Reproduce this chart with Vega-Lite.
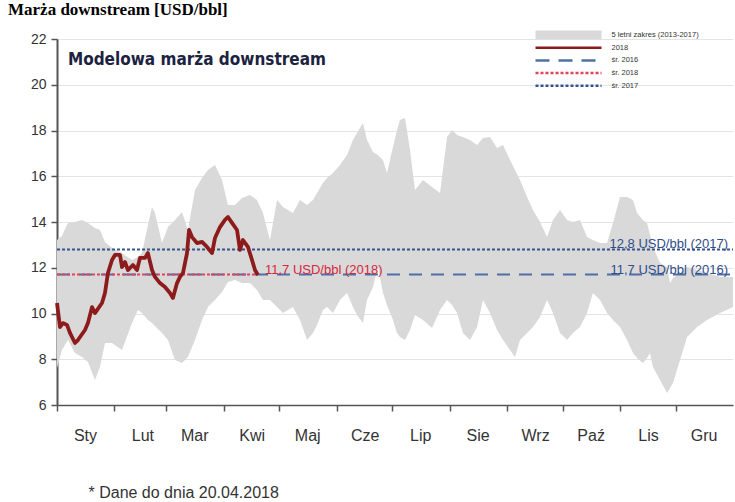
{
  "$schema": "https://vega.github.io/schema/vega-lite/v6.json",
  "width": 676,
  "height": 366,
  "autosize": {"type": "none"},
  "padding": {"left": 57, "top": 39, "right": 2, "bottom": 97},
  "background": "white",
  "config": {"view": {"stroke": null}, "font": "Liberation Sans"},
  "title": {
    "text": "Marża downstream [USD/bbl]",
    "anchor": "start",
    "frame": "group",
    "font": "Liberation Serif",
    "fontSize": 17,
    "fontWeight": "bold",
    "color": "#000000",
    "baseline": "alphabetic",
    "offset": 0,
    "dx": -49,
    "dy": 3
  },
  "datasets": {
    "band": [
      {"d": 0, "lo": 7.62, "hi": 13.21}, {"d": 2.7, "lo": 8.4, "hi": 13.4}, {"d": 5.9, "lo": 8.84, "hi": 13.96},
      {"d": 9.7, "lo": 8.27, "hi": 14.0}, {"d": 13.5, "lo": 8.1, "hi": 14.09}, {"d": 16.7, "lo": 7.88, "hi": 13.96},
      {"d": 20.5, "lo": 7.09, "hi": 13.74}, {"d": 23.2, "lo": 7.66, "hi": 13.65}, {"d": 25.9, "lo": 8.71, "hi": 13.13},
      {"d": 29.7, "lo": 8.71, "hi": 12.86}, {"d": 35.1, "lo": 8.4, "hi": 12.64}, {"d": 40.5, "lo": 9.58, "hi": 12.34},
      {"d": 43.7, "lo": 10.15, "hi": 12.47}, {"d": 45.9, "lo": 10.02, "hi": 12.64}, {"d": 49.1, "lo": 9.72, "hi": 13.87},
      {"d": 51.3, "lo": 9.58, "hi": 14.66}, {"d": 52.9, "lo": 9.45, "hi": 14.39}, {"d": 56.7, "lo": 9.15, "hi": 13.08},
      {"d": 59.9, "lo": 8.84, "hi": 13.78}, {"d": 63.7, "lo": 7.97, "hi": 14.09}, {"d": 67.5, "lo": 7.84, "hi": 14.44},
      {"d": 70.7, "lo": 8.1, "hi": 13.65}, {"d": 74.5, "lo": 8.84, "hi": 15.4}, {"d": 78.3, "lo": 9.72, "hi": 15.92},
      {"d": 81.5, "lo": 10.28, "hi": 16.27}, {"d": 85.3, "lo": 10.59, "hi": 16.49}, {"d": 89.1, "lo": 10.94, "hi": 15.84},
      {"d": 92.3, "lo": 11.38, "hi": 14.74}, {"d": 96.1, "lo": 11.46, "hi": 14.74}, {"d": 99.9, "lo": 11.33, "hi": 15.05},
      {"d": 104.2, "lo": 11.33, "hi": 15.18}, {"d": 108, "lo": 11.03, "hi": 14.96}, {"d": 111.2, "lo": 10.59, "hi": 14.39},
      {"d": 115, "lo": 10.59, "hi": 13.21}, {"d": 118.8, "lo": 10.28, "hi": 14.96}, {"d": 122, "lo": 10.02, "hi": 14.66},
      {"d": 127.4, "lo": 10.28, "hi": 14.39}, {"d": 131.2, "lo": 9.72, "hi": 14.96}, {"d": 135, "lo": 8.84, "hi": 14.74},
      {"d": 138.2, "lo": 9.15, "hi": 14.96}, {"d": 140.4, "lo": 9.5, "hi": 15.27}, {"d": 143.6, "lo": 10.15, "hi": 15.7},
      {"d": 145.8, "lo": 10.28, "hi": 15.92}, {"d": 149, "lo": 10.02, "hi": 16.14}, {"d": 152.8, "lo": 10.59, "hi": 16.49},
      {"d": 156.6, "lo": 10.9, "hi": 16.93}, {"d": 159.8, "lo": 10.28, "hi": 17.58}, {"d": 162, "lo": 9.93, "hi": 17.89},
      {"d": 165.2, "lo": 9.58, "hi": 18.33}, {"d": 167.4, "lo": 10.59, "hi": 17.58}, {"d": 170.6, "lo": 11.16, "hi": 17.06},
      {"d": 173.3, "lo": 12.03, "hi": 16.93}, {"d": 176, "lo": 10.9, "hi": 16.71}, {"d": 178.2, "lo": 10.37, "hi": 16.14},
      {"d": 181.4, "lo": 9.72, "hi": 17.28}, {"d": 183.6, "lo": 9.15, "hi": 18.02}, {"d": 185.2, "lo": 8.97, "hi": 18.46},
      {"d": 187.9, "lo": 8.84, "hi": 18.55}, {"d": 190.6, "lo": 9.28, "hi": 17.15}, {"d": 193.3, "lo": 9.93, "hi": 15.4},
      {"d": 197.6, "lo": 9.72, "hi": 15.84}, {"d": 202.5, "lo": 9.37, "hi": 15.53}, {"d": 206.8, "lo": 10.15, "hi": 15.27},
      {"d": 210.6, "lo": 10.59, "hi": 17.72}, {"d": 213.3, "lo": 10.37, "hi": 18.02}, {"d": 216, "lo": 10.02, "hi": 17.8},
      {"d": 219.2, "lo": 9.15, "hi": 17.72}, {"d": 223, "lo": 8.84, "hi": 17.58}, {"d": 226.8, "lo": 9.41, "hi": 17.37},
      {"d": 230, "lo": 10.59, "hi": 17.67}, {"d": 233.8, "lo": 10.02, "hi": 17.72}, {"d": 237.6, "lo": 9.28, "hi": 17.24},
      {"d": 240.8, "lo": 8.84, "hi": 17.37}, {"d": 244.6, "lo": 8.4, "hi": 16.71}, {"d": 247.3, "lo": 8.1, "hi": 16.27},
      {"d": 250, "lo": 8.84, "hi": 15.84}, {"d": 253.8, "lo": 9.15, "hi": 15.09}, {"d": 257, "lo": 9.41, "hi": 14.52},
      {"d": 260.8, "lo": 9.85, "hi": 14.0}, {"d": 264.6, "lo": 10.59, "hi": 13.34}, {"d": 267.8, "lo": 10.02, "hi": 14.09},
      {"d": 271.6, "lo": 9.15, "hi": 14.52}, {"d": 275.4, "lo": 8.84, "hi": 14.09}, {"d": 278.6, "lo": 9.15, "hi": 14.0},
      {"d": 282.4, "lo": 9.41, "hi": 14.09}, {"d": 286.2, "lo": 10.02, "hi": 13.34}, {"d": 289.4, "lo": 10.9, "hi": 13.21},
      {"d": 293.2, "lo": 10.59, "hi": 13.08}, {"d": 297, "lo": 10.02, "hi": 13.08}, {"d": 300.2, "lo": 9.72, "hi": 13.96},
      {"d": 304, "lo": 9.41, "hi": 15.09}, {"d": 307.8, "lo": 8.84, "hi": 15.09}, {"d": 311, "lo": 8.27, "hi": 14.96},
      {"d": 313.2, "lo": 8.05, "hi": 14.39}, {"d": 316.4, "lo": 7.84, "hi": 14.09}, {"d": 318.6, "lo": 8.05, "hi": 13.96},
      {"d": 320.2, "lo": 8.27, "hi": 13.43}, {"d": 321.8, "lo": 7.66, "hi": 12.91}, {"d": 325.6, "lo": 7.09, "hi": 12.21},
      {"d": 329.4, "lo": 6.52, "hi": 12.03}, {"d": 331, "lo": 6.74, "hi": 11.33}, {"d": 332.6, "lo": 6.96, "hi": 11.55},
      {"d": 336.4, "lo": 7.97, "hi": 11.77}, {"d": 340.2, "lo": 8.97, "hi": 12.03}, {"d": 345.6, "lo": 9.41, "hi": 11.9},
      {"d": 351, "lo": 9.72, "hi": 11.77}, {"d": 358, "lo": 10.02, "hi": 11.6}, {"d": 365, "lo": 10.28, "hi": 11.6}
    ],
    "y2018": [
      {"d": 0, "v": 10.46}, {"d": 1.6, "v": 9.41}, {"d": 3.2, "v": 9.58}, {"d": 5.4, "v": 9.5}, {"d": 7.0, "v": 9.15},
      {"d": 9.7, "v": 8.71}, {"d": 11.3, "v": 8.84}, {"d": 15.1, "v": 9.28}, {"d": 16.7, "v": 9.58}, {"d": 18.9, "v": 10.28},
      {"d": 20.5, "v": 10.02}, {"d": 24.3, "v": 10.46}, {"d": 25.9, "v": 10.9}, {"d": 27.5, "v": 11.77}, {"d": 29.7, "v": 12.34},
      {"d": 31.3, "v": 12.56}, {"d": 34.0, "v": 12.56}, {"d": 35.1, "v": 12.03}, {"d": 36.7, "v": 12.25}, {"d": 38.3, "v": 11.9},
      {"d": 41.0, "v": 12.12}, {"d": 43.2, "v": 11.9}, {"d": 44.8, "v": 12.43}, {"d": 47.5, "v": 12.43}, {"d": 49.1, "v": 12.64},
      {"d": 51.3, "v": 11.9}, {"d": 52.9, "v": 11.6}, {"d": 55.6, "v": 11.33}, {"d": 58.3, "v": 11.16}, {"d": 61.0, "v": 10.9},
      {"d": 62.6, "v": 10.68}, {"d": 64.8, "v": 11.33}, {"d": 66.4, "v": 11.6}, {"d": 68.0, "v": 11.77}, {"d": 70.2, "v": 12.64},
      {"d": 71.3, "v": 13.65}, {"d": 72.9, "v": 13.34}, {"d": 75.6, "v": 13.08}, {"d": 78.3, "v": 13.13}, {"d": 81.0, "v": 12.91},
      {"d": 83.7, "v": 12.64}, {"d": 85.3, "v": 13.3}, {"d": 88.0, "v": 13.78}, {"d": 90.7, "v": 14.09}, {"d": 92.3, "v": 14.22},
      {"d": 94.5, "v": 13.96}, {"d": 97.2, "v": 13.65}, {"d": 98.8, "v": 12.78}, {"d": 100.4, "v": 13.21}, {"d": 103.1, "v": 12.91},
      {"d": 105.3, "v": 12.34}, {"d": 106.9, "v": 11.9}, {"d": 108.5, "v": 11.68}
    ],
    "avg": [
      {"series": "śr. 2016", "value": 11.7, "start": 0, "end": 365, "label": "11,7 USD/bbl (2016)"},
      {"series": "śr. 2017", "value": 12.8, "start": 0, "end": 365, "label": "12,8 USD/bbl (2017)"},
      {"series": "śr. 2018", "value": 11.7, "start": 0, "end": 108.5, "label": "11,7 USD/bbl (2018)"}
    ],
    "heading": [
      {"d": 5.9, "v": 20.86, "text": "Modelowa marża downstream"}
    ]
  },
  "layer": [
    {
      "data": {"name": "band"},
      "mark": {"type": "area", "opacity": 1},
      "encoding": {
        "x": {
          "field": "d", "type": "quantitative",
          "scale": {"domain": [0, 365], "nice": false, "zero": false},
          "axis": {
            "values": [0, 31, 59, 90, 120, 151, 181, 212, 243, 273, 304, 334],
            "labelExpr": "['Sty','Lut','Mar','Kwi','Maj','Cze','Lip','Sie','Wrz','Paź','Lis','Gru'][indexof([0,31,59,90,120,151,181,212,243,273,304,334], datum.value)]",
            "labelOffset": 28, "labelFlush": false, "labelOverlap": false,
            "labelFont": "Liberation Sans", "labelFontSize": 16, "labelColor": "#333333", "labelPadding": 16,
            "grid": false, "domainColor": "#555555", "domainWidth": 1.5,
            "tickColor": "#555555", "tickSize": 6, "tickWidth": 1.5,
            "title": "* Dane do dnia 20.04.2018",
            "titleFont": "Liberation Sans", "titleFontSize": 16, "titleFontWeight": "normal", "titleColor": "#333333",
            "titleX": 31, "titleY": 87, "titleAlign": "left", "titleBaseline": "middle", "titleAnchor": "start"
          }
        },
        "y": {
          "field": "hi", "type": "quantitative",
          "scale": {"domain": [6, 22], "nice": false, "zero": false},
          "axis": {
            "values": [6, 8, 10, 12, 14, 16, 18, 20, 22],
            "grid": true, "gridColor": "#e4e4e4", "gridWidth": 1,
            "domainColor": "#555555", "domainWidth": 2,
            "tickColor": "#555555", "tickSize": 6, "tickWidth": 1.5,
            "labelFont": "Liberation Sans", "labelFontSize": 14, "labelColor": "#333333", "labelPadding": 5,
            "title": null
          }
        },
        "y2": {"field": "lo"},
        "color": {
          "datum": "5 letni zakres (2013-2017)", "type": "nominal",
          "scale": {
            "domain": ["5 letni zakres (2013-2017)", "2018", "śr. 2016", "śr. 2018", "śr. 2017"],
            "range": ["#d9d9d9", "#8e1b1b", "#4f6fa6", "#e0455a", "#35558f"]
          },
          "legend": {
            "orient": "none", "legendX": 478, "legendY": -10, "padding": 0,
            "title": null, "symbolType": "stroke", "symbolSize": 4356, "symbolStrokeWidth": 2.5,
            "clipHeight": 12, "rowPadding": 0.7, "labelFont": "Liberation Sans", "labelFontSize": 7.5,
            "labelColor": "#333333", "labelOffset": 69,
            "encode": {
              "symbols": {
                "update": {
                  "x": {"value": 33.5},
                  "fill": {"value": "transparent"},
                  "stroke": {"scale": "color", "field": "value"},
                  "strokeWidth": {"signal": "datum.value === '5 letni zakres (2013-2017)' ? 9 : 2.5"},
                  "strokeDash": {"signal": "datum.value === 'śr. 2016' ? [14, 9] : ((datum.value === 'śr. 2018' || datum.value === 'śr. 2017') ? [3, 2] : [1, 0])"},
                  "opacity": {"value": 1}
                }
              }
            }
          }
        }
      }
    },
    {
      "data": {"name": "avg"},
      "transform": [{"filter": "datum.series === 'śr. 2016'"}],
      "mark": {"type": "rule", "strokeDash": [13, 9], "strokeWidth": 2},
      "encoding": {
        "x": {"field": "start", "type": "quantitative", "scale": {"domain": [0, 365]}},
        "x2": {"field": "end"},
        "y": {"field": "value", "type": "quantitative", "scale": {"domain": [6, 22]}},
        "color": {
          "field": "series", "type": "nominal",
          "legend": {
            "orient": "none", "legendX": 478, "legendY": -10, "padding": 0,
            "title": null, "symbolType": "stroke", "symbolSize": 4356, "symbolStrokeWidth": 2.5,
            "clipHeight": 12, "rowPadding": 0.7, "labelFont": "Liberation Sans", "labelFontSize": 7.5,
            "labelColor": "#333333", "labelOffset": 69,
            "encode": {
              "symbols": {
                "update": {
                  "x": {"value": 33.5},
                  "fill": {"value": "transparent"},
                  "stroke": {"scale": "color", "field": "value"},
                  "strokeWidth": {"signal": "datum.value === '5 letni zakres (2013-2017)' ? 9 : 2.5"},
                  "strokeDash": {"signal": "datum.value === 'śr. 2016' ? [14, 9] : ((datum.value === 'śr. 2018' || datum.value === 'śr. 2017') ? [3, 2] : [1, 0])"},
                  "opacity": {"value": 1}
                }
              }
            }
          }
        }
      }
    },
    {
      "data": {"name": "avg"},
      "transform": [{"filter": "datum.series !== 'śr. 2016'"}],
      "mark": {"type": "rule", "strokeDash": [3, 2], "strokeWidth": 2},
      "encoding": {
        "x": {"field": "start", "type": "quantitative", "scale": {"domain": [0, 365]}},
        "x2": {"field": "end"},
        "y": {"field": "value", "type": "quantitative", "scale": {"domain": [6, 22]}},
        "color": {
          "field": "series", "type": "nominal",
          "legend": {
            "orient": "none", "legendX": 478, "legendY": -10, "padding": 0,
            "title": null, "symbolType": "stroke", "symbolSize": 4356, "symbolStrokeWidth": 2.5,
            "clipHeight": 12, "rowPadding": 0.7, "labelFont": "Liberation Sans", "labelFontSize": 7.5,
            "labelColor": "#333333", "labelOffset": 69,
            "encode": {
              "symbols": {
                "update": {
                  "x": {"value": 33.5},
                  "fill": {"value": "transparent"},
                  "stroke": {"scale": "color", "field": "value"},
                  "strokeWidth": {"signal": "datum.value === '5 letni zakres (2013-2017)' ? 9 : 2.5"},
                  "strokeDash": {"signal": "datum.value === 'śr. 2016' ? [14, 9] : ((datum.value === 'śr. 2018' || datum.value === 'śr. 2017') ? [3, 2] : [1, 0])"},
                  "opacity": {"value": 1}
                }
              }
            }
          }
        }
      }
    },
    {
      "data": {"name": "y2018"},
      "mark": {"type": "line", "strokeWidth": 3.8, "strokeJoin": "round"},
      "encoding": {
        "x": {"field": "d", "type": "quantitative", "scale": {"domain": [0, 365]}},
        "y": {"field": "v", "type": "quantitative", "scale": {"domain": [6, 22]}},
        "color": {
          "datum": "2018", "type": "nominal",
          "legend": {
            "orient": "none", "legendX": 478, "legendY": -10, "padding": 0,
            "title": null, "symbolType": "stroke", "symbolSize": 4356, "symbolStrokeWidth": 2.5,
            "clipHeight": 12, "rowPadding": 0.7, "labelFont": "Liberation Sans", "labelFontSize": 7.5,
            "labelColor": "#333333", "labelOffset": 69,
            "encode": {
              "symbols": {
                "update": {
                  "x": {"value": 33.5},
                  "fill": {"value": "transparent"},
                  "stroke": {"scale": "color", "field": "value"},
                  "strokeWidth": {"signal": "datum.value === '5 letni zakres (2013-2017)' ? 9 : 2.5"},
                  "strokeDash": {"signal": "datum.value === 'śr. 2016' ? [14, 9] : ((datum.value === 'śr. 2018' || datum.value === 'śr. 2017') ? [3, 2] : [1, 0])"},
                  "opacity": {"value": 1}
                }
              }
            }
          }
        }
      }
    },
    {
      "data": {"name": "avg"},
      "transform": [{"filter": "datum.series !== 'śr. 2018'"}],
      "mark": {"type": "text", "align": "right", "baseline": "alphabetic", "dx": -5, "dy": -1, "font": "Liberation Sans", "fontSize": 13, "color": "#2f4d8a"},
      "encoding": {
        "x": {"field": "end", "type": "quantitative", "scale": {"domain": [0, 365]}},
        "y": {"field": "value", "type": "quantitative", "scale": {"domain": [6, 22]}},
        "text": {"field": "label"}
      }
    },
    {
      "data": {"name": "avg"},
      "transform": [{"filter": "datum.series === 'śr. 2018'"}],
      "mark": {"type": "text", "align": "left", "baseline": "alphabetic", "dx": 7, "dy": -1, "font": "Liberation Sans", "fontSize": 13, "color": "#d7263d"},
      "encoding": {
        "x": {"field": "end", "type": "quantitative", "scale": {"domain": [0, 365]}},
        "y": {"field": "value", "type": "quantitative", "scale": {"domain": [6, 22]}},
        "text": {"field": "label"}
      }
    },
    {
      "data": {"name": "heading"},
      "mark": {"type": "text", "align": "left", "baseline": "alphabetic", "font": "Liberation Sans Narrow, DejaVu Sans Condensed, Liberation Sans", "fontSize": 17, "fontWeight": "bold", "color": "#1c2340"},
      "encoding": {
        "x": {"field": "d", "type": "quantitative", "scale": {"domain": [0, 365]}},
        "y": {"field": "v", "type": "quantitative", "scale": {"domain": [6, 22]}},
        "text": {"field": "text"}
      }
    }
  ]
}
